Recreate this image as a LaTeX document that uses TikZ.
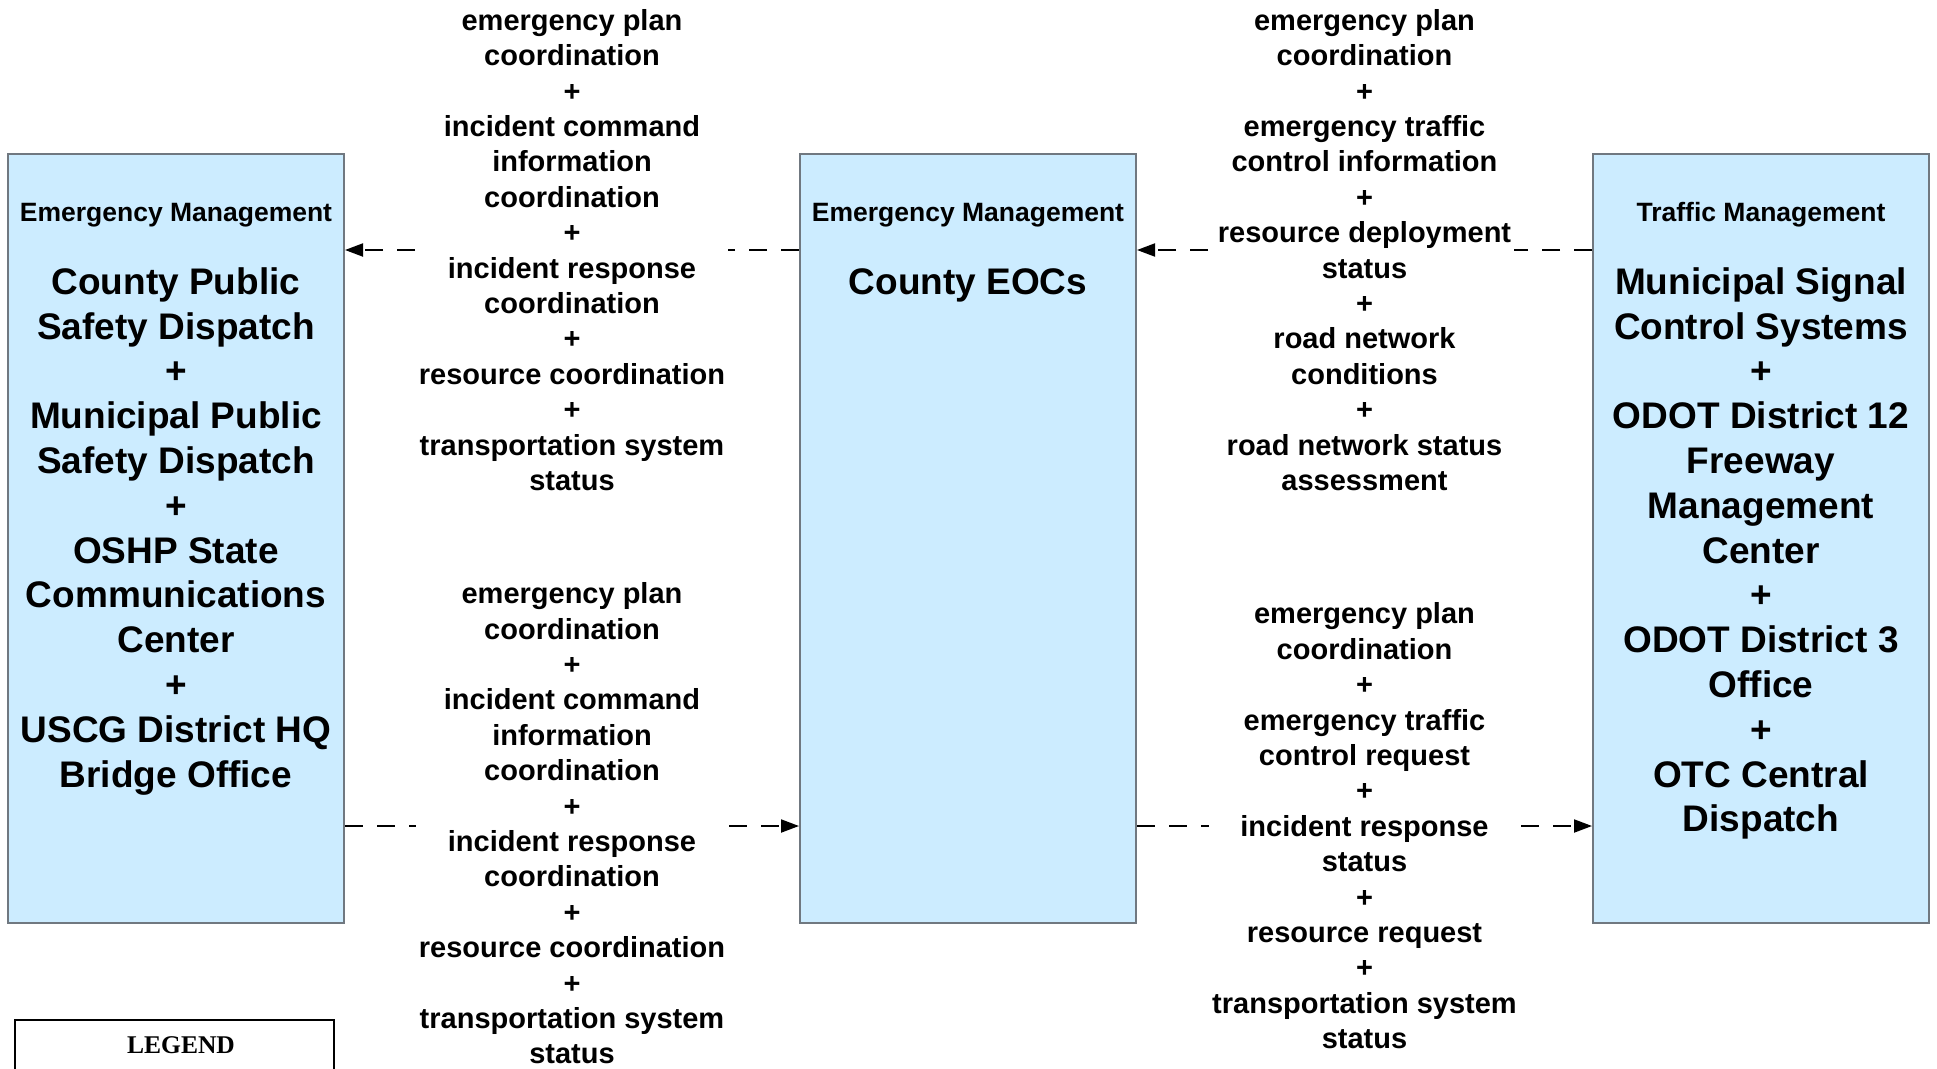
\documentclass[tikz,border=0pt]{standalone}
\usepackage{fontspec}
\setmainfont{Liberation Sans}
\newfontfamily\legendfont{Liberation Serif}
\usetikzlibrary{arrows.meta}
\definecolor{boxblue}{HTML}{CCECFF}
\definecolor{boxgray}{HTML}{707880}
\newcommand\firstln{\rule{0pt}{27pt}}
\begin{document}
\begin{tikzpicture}[x=1pt,y=-1pt,
  sysbox/.style={draw=boxgray, line width=2pt, fill=boxblue, minimum width=336pt, minimum height=768.5pt, inner sep=0pt},
  hdr/.style={font=\fontsize{26.5}{31}\selectfont\bfseries, inner sep=0pt, anchor=base},
  big/.style={font=\fontsize{37}{44.8}\selectfont\bfseries, align=center, inner sep=0pt, anchor=north},
  flowlbl/.style={font=\fontsize{29}{35.4}\selectfont\bfseries, align=center, fill=white, inner xsep=3pt, inner ysep=0pt},
  flow/.style={line width=2pt, dash pattern=on 18pt off 14pt, -{Triangle[length=18pt,width=13pt]}}
]
\clip (0,0) rectangle (1937,1068);
\fill[white] (0,0) rectangle (1937,1068);

% system boxes
\node[sysbox] (L) at (176,538.25) {};
\node[sysbox] (M) at (968,538.25) {};
\node[sysbox] (R) at (1761,538.25) {};

\node[hdr] (Lh) at (176,221) {Emergency Management};
\node[hdr] (Mh) at (968,221) {Emergency Management};
\node[hdr] (Rh) at (1761,221) {Traffic Management};

\node[big] (Lt) at (176,267) {\firstln County Public\\Safety Dispatch\\+\\Municipal Public\\Safety Dispatch\\+\\OSHP State\\Communications\\Center\\+\\USCG District HQ\\Bridge Office};
\node[big] (Mt) at (968,267) {\firstln County EOCs};
\node[big] (Rt) at (1761,267) {\firstln Municipal Signal\\Control Systems\\+\\ODOT District 12\\Freeway\\Management\\Center\\+\\ODOT District 3\\Office\\+\\OTC Central\\Dispatch};

% connector levels
\coordinate (yt) at (0,250);
\coordinate (yb) at (0,826);

\draw[flow] (M.west |- yt) -- (L.east |- yt)
  node[midway, flowlbl] (lblTL) {emergency plan\\coordination\\+\\incident command\\information\\coordination\\+\\incident response\\coordination\\+\\resource coordination\\+\\transportation system\\status};
\draw[flow] (R.west |- yt) -- (M.east |- yt)
  node[midway, flowlbl] (lblTR) {emergency plan\\coordination\\+\\emergency traffic\\control information\\+\\resource deployment\\status\\+\\road network\\conditions\\+\\road network status\\assessment};
\draw[flow] (L.east |- yb) -- (M.west |- yb)
  node[midway, flowlbl, yshift=2.5pt] (lblBL) {emergency plan\\coordination\\+\\incident command\\information\\coordination\\+\\incident response\\coordination\\+\\resource coordination\\+\\transportation system\\status};
\draw[flow] (M.east |- yb) -- (R.west |- yb)
  node[midway, flowlbl] (lblBR) {emergency plan\\coordination\\+\\emergency traffic\\control request\\+\\incident response\\status\\+\\resource request\\+\\transportation system\\status};

% legend
\draw[line width=2pt] (15,1020) rectangle (334,1100);
\node[font=\legendfont\bfseries\fontsize{25.5}{30}\selectfont, anchor=base, inner sep=0pt] (legend) at (181,1053) {LEGEND};
\end{tikzpicture}
\end{document}
